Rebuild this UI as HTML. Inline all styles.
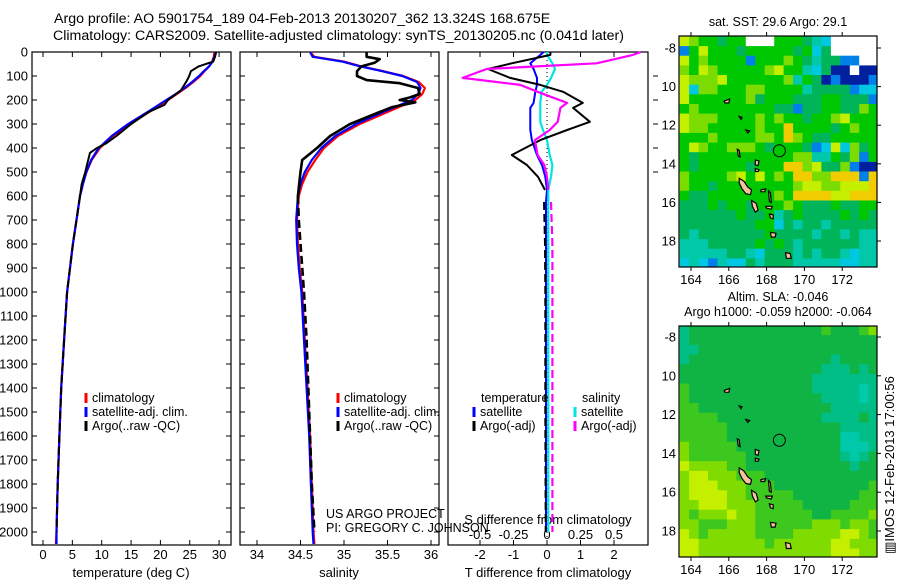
<!DOCTYPE html>
<html><head><meta charset="utf-8"><style>
html,body{margin:0;padding:0;background:#fff;}
svg{display:block;font-family:"Liberation Sans",sans-serif;}
</style></head><body>
<svg id="fig" width="900" height="580" viewBox="0 0 900 580" xmlns="http://www.w3.org/2000/svg"></svg>
<script>
// ---- data ----
const climDepth = [0,20,40,60,80,100,125,150,175,200,250,300,350,400,450,500,550,600,700,800,900,1000,1200,1400,1600,1800,2000,2050];
const climT = [29.2,29.1,28.8,28.3,27.5,26.8,25.6,24.3,22.8,21.3,18.1,14.8,11.9,9.7,8.3,7.4,6.8,6.3,5.7,5.1,4.6,4.1,3.6,3.1,2.8,2.5,2.3,2.2];
const satT = [29.4,29.2,28.9,28.3,27.4,26.6,25.4,24.1,22.6,21.0,17.8,14.5,11.7,9.5,8.2,7.4,6.8,6.3,5.7,5.1,4.6,4.1,3.6,3.1,2.8,2.5,2.3,2.3];
const argoDepth = [0,20,40,60,80,100,120,160,200,220,250,300,350,380,400,420,450,500,550,600,700,800,1000,1200,1400,1600,1800,2000];
const argoT = [29.5,29.3,29.0,26.5,25.2,24.9,24.5,23.5,21.3,20.7,18.0,15.0,12.5,10.8,9.2,8.0,7.7,7.2,6.6,6.3,5.7,5.1,4.1,3.6,3.1,2.8,2.5,2.3];
const climS = [34.61,34.66,35.0,35.2,35.45,35.68,35.86,35.93,35.9,35.82,35.5,35.18,34.93,34.77,34.67,34.58,34.52,34.48,34.46,34.47,34.49,34.52,34.55,34.58,34.61,34.63,34.65,34.66];
const satS = [34.61,34.64,34.98,35.19,35.44,35.67,35.84,35.88,35.85,35.78,35.45,35.14,34.9,34.74,34.63,34.55,34.5,34.47,34.45,34.46,34.48,34.51,34.54,34.57,34.6,34.62,34.64,34.65];
const argoSDepth = [0,20,30,45,60,80,100,117,130,150,175,190,200,210,230,250,300,350,400,450,500,600,700,800,1000,1200,1500,1800,2000];
const argoS = [35.26,35.26,35.41,35.35,35.2,35.15,35.15,35.26,35.64,35.85,35.87,35.75,35.64,35.82,35.55,35.41,35.07,34.84,34.69,34.52,34.5,34.47,34.48,34.5,34.54,34.57,34.6,34.63,34.66];
const diffDepth = [0,12,47,71,108,137,166,212,233,291,325,367,429,471,520,575,625,800,1000,1500,2000];
const dTargo = [0.1,0.1,-1.05,-1.76,-1.1,-0.2,0.48,1.07,0.78,1.28,0.6,-0.2,-1.05,-0.6,-0.27,-0.06,-0.09,-0.06,-0.05,-0.05,-0.04];
const dSargo = [0.7,0.64,0.37,-0.45,-0.63,-0.2,-0.07,0.15,0.1,0.08,0.02,-0.09,-0.07,-0.02,0.0,0.01,0.03,0.04,0.04,0.04,0.04];
const dTsat = [-0.1,-0.2,-0.5,-0.4,-0.3,-0.3,-0.35,-0.4,-0.5,-0.5,-0.5,-0.45,-0.3,-0.15,-0.05,0.0,-0.03,-0.03,-0.03,-0.03,-0.03];
const dSsat = [0.0,0.0,0.04,0.06,0.03,0.0,-0.04,-0.05,-0.05,-0.05,-0.03,0.0,0.02,0.04,0.03,0.01,0.01,0.01,0.01,0.01,0.01];
const depthTicks = [0,100,200,300,400,500,600,700,800,900,1000,1100,1200,1300,1400,1500,1600,1700,1800,1900,2000];
const tTicks = [0,5,10,15,20,25,30];
const sTicks = [34,34.5,35,35.5,36];
const sTickLabels = ["34","34.5","35","35.5","36"];
const dtTicks = [-2,-1,0,1,2];
const dsTicks = [-0.5,-0.25,0,0.25,0.5];
const lonTicks = [164,166,168,170,172];
const latTicks = [8,10,12,14,16,18];
const latLabels = ["-8","10","12","14","16","18"];
const argoLon = 168.675, argoLat = 13.324;
const sstRows = [
"ylggGggwwwgggGtcwwwww","bgygggGgggggGgcGwwwww","yglggggbggglgGtGGbbww","lgylggggglyggtcGBBwBB",
"ylllyggggggltgGBbBBBb","ycllgggllggggtGGGGbcc","ygggggglGgggGGGggGGGb","glggggggggGGbGGggGGlg",
"ylllgggglglggGgglyggg","yllggggglggoggggGglgg","ggglggggllgolgGGggggg","gylgglllgGgggGbcyclGg",
"gGggggggggggllttgGlbg","gGgggggGgggoolyGGlbBB","lgggglygyglgoollooobo","lggGgggggggglyyllyyyo",
"gGGggggggglgooooyyooo","GGGgGggGggglgGGGgGGgg","GGGGGGgGGgtGgGGGGgGgG","GGGGGGGGggcGtGGtGGGGG",
"GtGGGGGGGgGGGGtGGtGtt","tttGGGGGgGgGtGGGGGGtt","tttttGGtcGGGtGtGGtctt","ctcbtccGtGGGtttttcctt"];
const slaRows = [
"tGGGGGGGGGGGGGGgGGGgl","tGGGGGGGGGGGGGGGGGGGG","ttGGGGGGGGGGGGGGGGGGG","tGGGGGGGGGGGGGGGtGGGG",
"GGGGGGGGGGGGGGGtttGtG","GGGGGGGGGGGGGGttttttt","gGGGGGGGGGGGGGtttttTt","gGGGGGGGGGGGGGGttttTt",
"ggGGGGGGGGGGGGGGttttt","ggggGGGGGGGGGGGttttGt","gggggGGGGGGGGGGGGtttt","gggggGGGGGGGGGGGGTTtt",
"lgggggGGGGGGGGGGGTTTt","lggggggGGGGGGGGGGtTtG","yllllggGGGGGGGGGGGtGG","lyylllgggGGGGGGGGGGGG",
"lyyylllgggGGGGGGGGGGg","lyyyyllgggggGGGGGGGgg","llyyylllgggggGGGGGggg","lglllyllggggggGGggggl",
"llggglllgggggglllgllg","ylglllllgggglllllyylg","yylllllllgllllllyylll","yyllllllllllllllyyyll"];
const islands = [
[[166.55,14.75],[166.8,14.9],[167.0,15.2],[167.2,15.35],[167.15,15.6],[166.9,15.55],[166.7,15.3],[166.55,15.0]],
[[167.2,15.9],[167.45,16.05],[167.55,16.4],[167.4,16.5],[167.25,16.2]],
[[167.7,15.35],[167.95,15.3],[167.9,15.45],[167.7,15.45]],
[[168.1,15.4],[168.2,15.5],[168.25,16.0],[168.15,15.95]],
[[167.95,16.2],[168.3,16.2],[168.25,16.35],[168.0,16.3]],
[[168.15,16.6],[168.35,16.65],[168.35,16.85],[168.2,16.8]],
[[168.2,17.55],[168.5,17.6],[168.45,17.8],[168.25,17.8]],
[[169.0,18.6],[169.25,18.65],[169.3,18.9],[169.05,18.9]],
[[167.4,13.8],[167.6,13.85],[167.55,14.1],[167.4,14.05]],
[[167.4,14.25],[167.6,14.3],[167.55,14.4],[167.4,14.4]],
[[165.75,10.75],[166.05,10.65],[166.0,10.85],[165.8,10.85]],
[[166.55,11.55],[166.7,11.6],[166.65,11.7]],
[[166.9,12.25],[167.1,12.3],[167.0,12.4]],
[[166.45,13.25],[166.55,13.3],[166.6,13.65],[166.5,13.6]]
];
const sstColors = {y:"#c4f000",l:"#7adc00",g:"#00c800",G:"#00b45a",t:"#00c8a8",c:"#00c8e0",b:"#0080e8",B:"#0020a0",o:"#f0cc00",w:"#ffffff"};
const slaColors = {G:"#10b445",g:"#3cc81e",l:"#80dc00",y:"#c4f000",t:"#00be85",T:"#00c8aa"};

// ---- helpers ----
const NS="http://www.w3.org/2000/svg";
const svg=document.getElementById('fig');
function mk(tag,attrs,parent){const e=document.createElementNS(NS,tag);for(const k in attrs)e.setAttribute(k,attrs[k]);(parent||svg).appendChild(e);return e;}
function txt(s,x,y,anchor,size,parent){const e=mk('text',{x:x,y:y,'text-anchor':anchor||'start','font-size':size||12,fill:'#000'},parent);e.textContent=s;return e;}
const yD = d => 52 + d*0.24;
const xT = t => 43 + t*5.87;
const xS = s => 257 + (s-34)*87;
const xDT = v => 547 + v*33.5;
const xDS = v => 547 + v*134;
function poly(xs,ys,fx,color,w,dash,name){
  const pts=xs.map((v,i)=>fx(v).toFixed(1)+','+yD(ys[i]).toFixed(1)).join(' ');
  const p=mk('polyline',{points:pts,fill:'none',stroke:color,'stroke-width':w,'stroke-linejoin':'round'});
  if(dash)p.setAttribute('stroke-dasharray',dash);
  
  
  return p;
}
function splitPoly(vals,deps,fx,color,w,name,cut){
  const a=[],b=[],da=[],db=[];
  deps.forEach((d,i)=>{if(d<=cut){a.push(vals[i]);da.push(d);} if(d>=cut){b.push(vals[i]);db.push(d);}});
  poly(a,da,fx,color,w,null,name+'-upper');
  poly(b,db,fx,color,w,'8,4',name+'-lower');
}
function panel(x0,x1,name){
  const r=mk('rect',{x:x0,y:52,width:x1-x0,height:493,fill:'#fff',stroke:'#000','stroke-width':1.2});
  
  
  depthTicks.forEach(d=>{mk('line',{x1:x0,x2:x0+5,y1:yD(d),y2:yD(d),stroke:'#000'});mk('line',{x1:x1-5,x2:x1,y1:yD(d),y2:yD(d),stroke:'#000'});});
}
function xticks(vals,fx,labels,ylab){
  vals.forEach((v,i)=>{const x=fx(v);mk('line',{x1:x,x2:x,y1:52,y2:57,stroke:'#000'});mk('line',{x1:x,x2:x,y1:540,y2:545,stroke:'#000'});
    if(labels){const t=txt(labels[i],x,ylab,'middle',13);}});
}
function legendEntry(x,y,color,label,dash){
  const g=mk('g',{});
  
  
  mk('line',{x1:x,x2:x,y1:y-9,y2:y+1,stroke:color,'stroke-width':3},g);
  txt(label,x+6,y,'start',12.5,g);
}

// ---- titles ----
let t1=txt("Argo profile: AO 5901754_189 04-Feb-2013 20130207_362 13.324S 168.675E",54,23,'start',14.2);

let t2=txt("Climatology: CARS2009. Satellite-adjusted climatology: synTS_20130205.nc (0.041d later)",53,40,'start',14.2);


// ---- panel 1: temperature ----
panel(32,231,'temperature-panel');
depthTicks.forEach(d=>{const t=txt(String(d),28,yD(d)+4.5,'end',13);});
xticks(tTicks,xT,tTicks.map(String),559);
let xl1=txt("temperature (deg C)",131,577,'middle',13);
poly(climT,climDepth,xT,'#ff0000',2.2,null,'climatology-temperature-line');
poly(satT,climDepth,xT,'#0000ff',2.2,null,'satellite-temperature-line');
splitPoly(argoT,argoDepth,xT,'#000',2,'argo-temperature-line',600);
legendEntry(86,402,'#ff0000','climatology');
legendEntry(86,416,'#0000ff','satellite-adj. clim.');
legendEntry(86,430,'#000','Argo(..raw -QC)');

// ---- panel 2: salinity ----
panel(240,439,'salinity-panel');
xticks(sTicks,xS,sTickLabels,559);
let xl2=txt("salinity",339,577,'middle',13);
poly(climS,climDepth,xS,'#ff0000',2.2,null,'climatology-salinity-line');
poly(satS,climDepth,xS,'#0000ff',2.2,null,'satellite-salinity-line');
splitPoly(argoS,argoSDepth,xS,'#000',2.6,'argo-salinity-line',600);
legendEntry(338,402,'#ff0000','climatology');
legendEntry(338,416,'#0000ff','satellite-adj. clim.');
legendEntry(338,430,'#000','Argo(..raw -QC)');

// ---- panel 3: differences ----
(function(){
 const r=mk('rect',{x:448,y:52,width:200,height:493,fill:'#fff',stroke:'#000','stroke-width':1.2});
 
 [100,200,300,400,500].forEach(d=>mk('line',{x1:653,x2:658,y1:yD(d),y2:yD(d),stroke:'#000'}));
})();
xticks(dtTicks,xDT,dtTicks.map(String),559);
dsTicks.forEach(v=>{const t=txt(String(v),xDS(v),539,'middle',13);});
let sdl=txt("S difference from climatology",548,524,'middle',13);
let tdl=txt("T difference from climatology",548,577,'middle',13);
(function(){const z=mk('line',{x1:xDT(0),x2:xDT(0),y1:52,y2:545,stroke:'#000','stroke-dasharray':'1,3'});})();
poly(dTsat,diffDepth,xDT,'#0000ff',2,null,'satellite-temperature-diff-line');
poly(dSsat,diffDepth,xDS,'#00e5e5',2.2,null,'satellite-salinity-diff-line');
splitPoly(dTargo,diffDepth,xDT,'#000',2,'argo-temperature-diff-line',600);
splitPoly(dSargo,diffDepth,xDS,'#ff00ff',2.2,'argo-salinity-diff-line',600);
let lt=txt("temperature",481,402,'start',12.5);
let ls=txt("salinity",582,402,'start',12.5);
legendEntry(474,416,'#0000ff','satellite');
legendEntry(474,430,'#000','Argo(-adj)');
legendEntry(575,416,'#00e5e5','satellite');
legendEntry(575,430,'#ff00ff','Argo(-adj)');

// credits drawn last so they overlap panel 3 like the reference
let c1=txt("US ARGO PROJECT",326,518,'start',12.5);
let c2=txt("PI: GREGORY C. JOHNSON",326,532,'start',12.5);

// ---- maps ----
function drawMap(top,bottom,latTop,latScale,rows,colors,name,title){
  const g=mk('g',{});
  
  
  const xL = lon => 691 + (lon-164)*18.9;
  const yL = lat => latTop + (lat-8)*latScale;
  const clipId=name+'-clip';
  const cp=mk('clipPath',{id:clipId},g);mk('rect',{x:679,y:top,width:198,height:bottom-top},cp);
  const cg=mk('g',{'clip-path':'url(#'+clipId+')'},g);
  rows.forEach((row,ri)=>{
    const lat0=7.4+ri*0.5;
    for(let ci=0;ci<row.length;ci++){
      const lon0=163.4+ci*0.5;
      const x=xL(lon0),y=yL(lat0);
      const c=mk('rect',{x:x.toFixed(1),y:y.toFixed(1),width:(0.5*18.9+0.6).toFixed(1),height:(0.5*latScale+0.6).toFixed(1),fill:colors[row[ci]]},cg);
      
      
    }
  });
  islands.forEach(isl=>{
    const p=mk('polygon',{points:isl.map(q=>xL(q[0]).toFixed(1)+','+yL(q[1]).toFixed(1)).join(' '),fill:'#f5c39b',stroke:'#000','stroke-width':1.2},cg);
    
    
  });
  const circ=mk('circle',{cx:xL(argoLon),cy:yL(argoLat),r:6,fill:'none',stroke:'#000','stroke-width':1},g);
  
  
  mk('rect',{x:679,y:top,width:198,height:bottom-top,fill:'none',stroke:'#000','stroke-width':1.2},g);
  lonTicks.forEach(l=>{const x=xL(l);mk('line',{x1:x,x2:x,y1:top-4,y2:top,stroke:'#000'},g);mk('line',{x1:x,x2:x,y1:bottom,y2:bottom+4,stroke:'#000'},g);
    const t=txt(String(l),x,bottom+17,'middle',13,g);});
  latTicks.forEach((l,i)=>{const y=yL(l);mk('line',{x1:877,x2:881,y1:y,y2:y,stroke:'#000'},g);
    const t=txt(latLabels[i],676,y+4.5,'end',13,g);});
  title.forEach((s,i)=>{const t=txt(s,778,top-10-(title.length-1-i)*15,'middle',12.5,g);});
}
drawMap(36,267,48,19.3,sstRows,sstColors,'sst-map',["sat. SST: 29.6 Argo: 29.1"]);
drawMap(326,557,337,19.4,slaRows,slaColors,'sla-map',["Altim. SLA: -0.046","Argo h1000: -0.059 h2000: -0.064"]);

let im=txt("\u25A5IMOS 12-Feb-2013 17:00:56",0,0,'middle',13);
im.setAttribute('transform','translate(894,465) rotate(-90)');

</script>
</body></html>
